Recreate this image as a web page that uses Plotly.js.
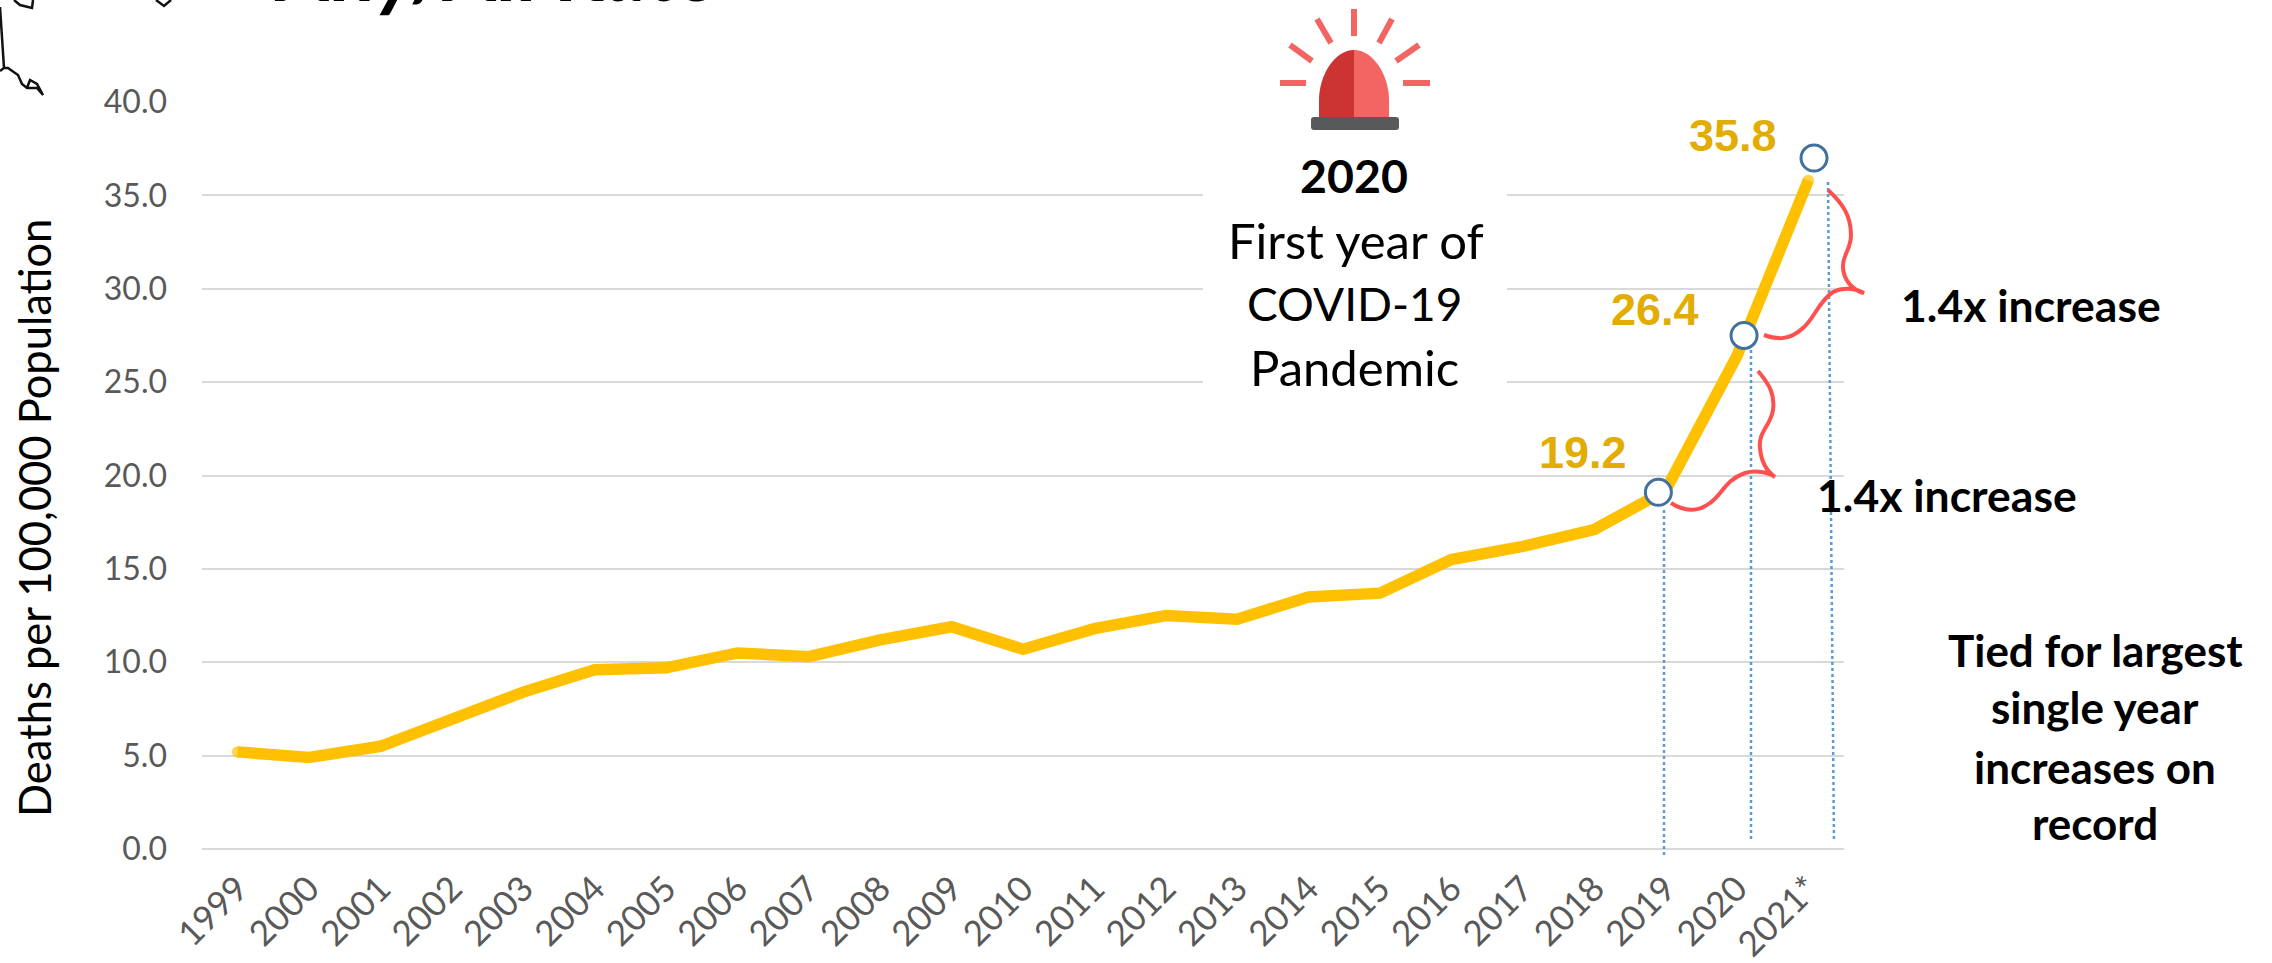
<!DOCTYPE html>
<html>
<head>
<meta charset="utf-8">
<script src="https://cdn.plot.ly/plotly-3.0.1.min.js"></script>
<style>html,body{margin:0;padding:0;background:#fff;overflow:hidden}</style>
</head>
<body>
<div id="chart" style="width:2272px;height:963px"></div>
<script>
const years = [1999,2000,2001,2002,2003,2004,2005,2006,2007,2008,2009,2010,2011,2012,2013,2014,2015,2016,2017,2018,2019,2020,2021];
const rates = [5.2,4.9,5.5,6.9,8.4,9.6,9.7,10.5,10.3,11.2,11.9,10.7,11.8,12.5,12.3,13.5,13.7,15.5,16.2,17.1,19.2,26.4,35.8];
const tickLabels = ['1999','2000','2001','2002','2003','2004','2005','2006','2007','2008','2009','2010','2011','2012','2013','2014','2015','2016','2017','2018','2019','2020','2021*'];
const yTicks = [0,5,10,15,20,25,30,35,40];
const markerYears = [2018.9,2020.1,2021.08];
const markerRates = [19.1,27.5,37.0];
const tiedLines = ['Tied for largest','single year','increases on','record'];
const sirenLines = ['First year of','COVID-19','Pandemic'];

const W = 2272, H = 963, L = 202, R = 1844, T = 102, B = 849;
const px = v => (v - L) / (R - L);
const py = v => (B - v) / (B - T);
const path = s => s.replace(/(-?\d+(?:\.\d+)?),(-?\d+(?:\.\d+)?)/g, (m, a, b) => px(+a).toFixed(5) + ',' + py(+b).toFixed(5));
const sp = (d, o) => Object.assign({type:'path', xref:'paper', yref:'paper', path:path(d), layer:'above'}, o);
const body = 'Lato, sans-serif';
const note = (text, x, y, size, o) => Object.assign({
  text, x:px(x), y:py(y), xref:'paper', yref:'paper', showarrow:false, xanchor:'center', yanchor:'middle',
  font:{family:body, size, color:'#000'}
}, o || {});
const ray = (a, b, c, d) => sp(`M${a},${b} L${c},${d}`, {line:{color:'#F26563', width:6}});
const dotted = (a, b, c, d) => sp(`M${a},${b} L${c},${d}`, {line:{color:'#5B9BD5', width:2.5, dash:'dot'}});
const ink = d => sp(d, {line:{color:'#111', width:2.5}});

const shapes = [
  {type:'rect', xref:'paper', yref:'paper', x0:px(1203), x1:px(1507), y0:py(400), y1:py(135), fillcolor:'#fff', line:{width:0}, layer:'above'},
  dotted(1664,510,1664,857), dotted(1751,350,1751,842), dotted(1828,182,1834,842),
  sp('M1354,50 C1335,50 1319,75 1319,100 L1319,117 L1354,117 Z', {fillcolor:'#CC3333', line:{width:0}}),
  sp('M1354,50 C1373,50 1389,75 1389,100 L1389,117 L1354,117 Z', {fillcolor:'#F26563', line:{width:0}}),
  sp('M1314,117 L1396,117 Q1399,117 1399,120 L1399,127 Q1399,130 1396,130 L1314,130 Q1311,130 1311,127 L1311,120 Q1311,117 1314,117 Z', {fillcolor:'#58595B', line:{width:0}}),
  ray(1354,9,1354,36), ray(1317,19,1331,43), ray(1392,19,1379,43),
  ray(1290,45,1312,61), ray(1419,45,1396,61), ray(1280,83,1306,83), ray(1403,83,1430,83),
  sp('M1758,371 C1770,385 1775,395 1773,410 C1771,425 1758,432 1760,448 C1761,460 1765,470 1775,477 C1768,472 1755,470 1745,473 C1725,480 1722,495 1710,503 C1698,512 1685,512 1671,503', {line:{color:'#FF5050', width:4}}),
  sp('M1828,190 C1842,203 1851,215 1851,235 C1851,250 1842,255 1843,268 C1844,280 1852,290 1864,293 C1855,288 1843,287 1833,292 C1818,302 1815,318 1803,328 C1790,340 1778,340 1764,335', {line:{color:'#FF5050', width:4}}),
  ink('M0,7 L4,68 L0,71 M4,68 L8,68 L18,75 L22,84 L27,88 L37,88 L43,95 L37,84 L30,80 L27,88 M14,0 L20,5 L32,8 L33,0 M156,0 L164,6 L171,0')
];

const gold = {family:'"Liberation Sans", Arial, sans-serif', size:45, color:'#E2AC00'};
const annotations = [
  note('<b><i>Any/All Rate</i></b>', 496, -31, 83, {font:{family:body, size:83, color:'#000'}}),
  note('Deaths per 100,000 Population', 34, 518, 43.5, {textangle:-90}),
  note('<b>' + rates[22].toFixed(1) + '</b>', 1733, 135, 45, {font:gold}),
  note('<b>' + rates[21].toFixed(1) + '</b>', 1655, 309, 45, {font:gold}),
  note('<b>' + rates[20].toFixed(1) + '</b>', 1583, 453, 45, {font:gold}),
  note('<b>2020</b>', 1354, 175, 46.5),
  note(sirenLines[0], 1356, 240, 49),
  note(sirenLines[1], 1354, 303, 46),
  note(sirenLines[2], 1354, 367, 49),
  note('<b>1.4x increase</b>', 2031, 304, 44.5),
  note('<b>1.4x increase</b>', 1947, 494, 44.5),
  note('<b>' + tiedLines[0] + '</b>', 2095, 650, 44),
  note('<b>' + tiedLines[1] + '</b>', 2095, 707, 44),
  note('<b>' + tiedLines[2] + '</b>', 2095, 767, 44),
  note('<b>' + tiedLines[3] + '</b>', 2095, 823, 44)
];

const capSizes = years.map((y, i) => (i === 0 || i === years.length - 1) ? 11.5 : 0);

Plotly.newPlot('chart', [
  {x:years, y:rates, type:'scatter', mode:'lines+markers', line:{color:'#FFC000', width:11.5}, marker:{color:'#FFC000', size:capSizes, line:{width:0}}, showlegend:false, hoverinfo:'x+y'},
  {x:markerYears, y:markerRates, type:'scatter', mode:'markers', marker:{color:'#fff', size:26, line:{color:'#41719C', width:3}}, showlegend:false, hoverinfo:'skip'}
], {
  width:W, height:H, paper_bgcolor:'#fff', plot_bgcolor:'#fff', showlegend:false,
  margin:{l:L, r:W-R, t:T, b:H-B, autoexpand:false},
  xaxis:{range:[1998.5,2021.5], tickmode:'array', tickvals:years, ticktext:tickLabels, tickangle:-45, showgrid:false, zeroline:false, showline:false, ticks:'', ticklabelstandoff:11, tickfont:{family:body, size:35, color:'#595959'}, automargin:false, fixedrange:true},
  yaxis:{range:[0,40], tickmode:'array', tickvals:yTicks, ticktext:yTicks.map(v => v.toFixed(1)), gridcolor:'#D9D9D9', gridwidth:2, zeroline:true, zerolinecolor:'#D9D9D9', zerolinewidth:2, showline:false, ticks:'', ticklabelstandoff:34, tickfont:{family:body, size:32, color:'#595959'}, automargin:false, fixedrange:true},
  shapes, annotations
}, {displayModeBar:false});
</script>
</body>
</html>
